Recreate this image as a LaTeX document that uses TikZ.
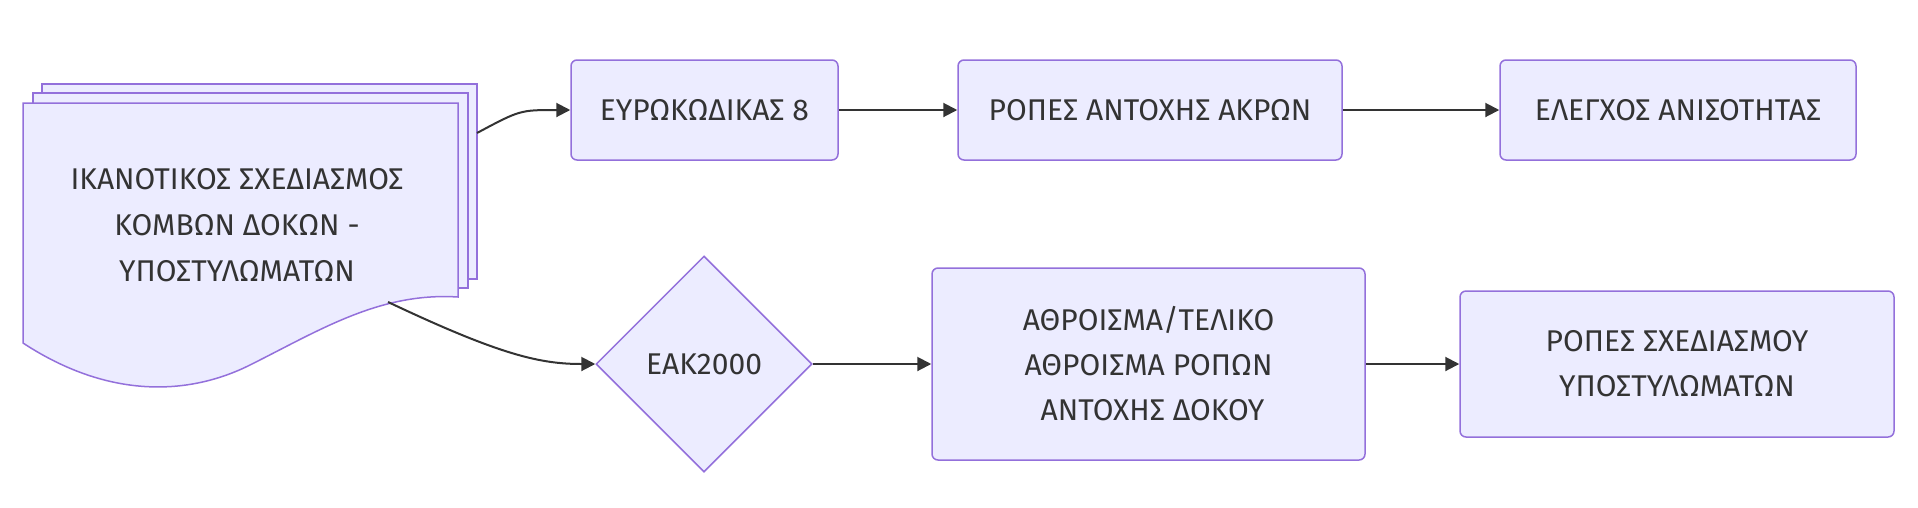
\documentclass[tikz,border=0pt]{standalone}
\usepackage{fontspec}
\setmainfont{Fira Sans}
\usetikzlibrary{shapes.geometric,arrows.meta}
\definecolor{nodefill}{HTML}{ECECFF}
\definecolor{nodeline}{HTML}{9370DB}
\definecolor{txt}{HTML}{333333}
\definecolor{edge}{HTML}{333333}
\tikzset{
  x=1pt,y=-1pt,
  box/.style={draw=nodeline,fill=nodefill,line width=1.5pt,rounded corners=6pt,inner sep=0pt,align=center,text=txt,font=\fontsize{30}{45}\selectfont},
  dia/.style={draw=nodeline,fill=nodefill,line width=1.5pt,shape=diamond,aspect=1,inner sep=0pt,minimum width=216pt,minimum height=216pt,text=txt,font=\fontsize{30}{45}\selectfont},
  docshape/.style={draw=nodeline,fill=nodefill,line width=1.5pt},
  arr/.style={draw=edge,line width=2pt,-{Triangle[length=14pt,width=14pt]}},
}
\begin{document}
\begin{tikzpicture}
\useasboundingbox (0,0) rectangle (1918,507);
% document stack
\path[docshape] (42,84) rectangle (477,279);
\path[docshape] (33,93) rectangle (468,288);
\path[docshape] (23,103) -- (458,103) -- (458,297)
  .. controls (380,292) and (320,330) .. (250,365)
  .. controls (190,395) and (110,400) .. (23,343) -- cycle;
\node[align=center,text=txt,font=\fontsize{30}{46}\selectfont] (doc) at (237,225) {ΙΚΑΝΟΤΙΚΟΣ ΣΧΕΔΙΑΣΜΟΣ\\ΚΟΜΒΩΝ ΔΟΚΩΝ -\\ΥΠΟΣΤΥΛΩΜΑΤΩΝ};
\coordinate (docA) at (477,133);
\coordinate (docB) at (388,302);
% nodes
\node[box,minimum width=267pt,minimum height=100pt] (e1) at (704.5,110) {ΕΥΡΩΚΩΔΙΚΑΣ 8};
\node[box,minimum width=384pt,minimum height=100pt] (e2) at (1150,110) {ΡΟΠΕΣ ΑΝΤΟΧΗΣ ΑΚΡΩΝ};
\node[box,minimum width=356pt,minimum height=100pt] (e3) at (1678,110) {ΕΛΕΓΧΟΣ ΑΝΙΣΟΤΗΤΑΣ};
\node[dia] (d) at (704,364) {ΕΑΚ2000};
\node[box,minimum width=433pt,minimum height=192pt] (a) at (1148.5,364) {ΑΘΡΟΙΣΜΑ/ΤΕΛΙΚΟ\\ΑΘΡΟΙΣΜΑ ΡΟΠΩΝ\\\hphantom{ }ΑΝΤΟΧΗΣ ΔΟΚΟΥ};
\node[box,minimum width=434pt,minimum height=146pt] (r) at (1677,364) {ΡΟΠΕΣ ΣΧΕΔΙΑΣΜΟΥ\\ΥΠΟΣΤΥΛΩΜΑΤΩΝ};
% edges
\draw[arr] (docA) .. controls (520,110) .. (e1.west);
\draw[arr] (docB) .. controls (500,355) and (540,364) .. (d.west);
\draw[arr] (e1) -- (e2);
\draw[arr] (e2) -- (e3);
\draw[arr] (d.east) -- (a.west);
\draw[arr] (a) -- (r);
\end{tikzpicture}
\end{document}
